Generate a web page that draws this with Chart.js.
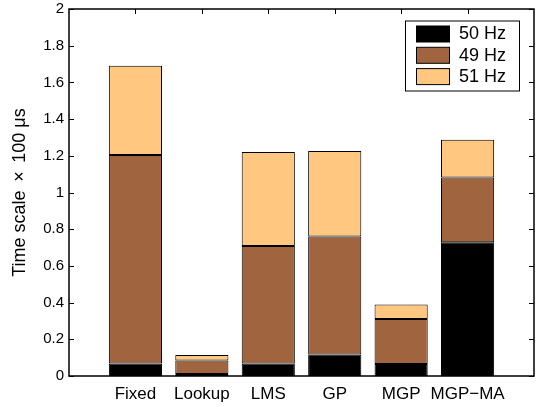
<!DOCTYPE html>
<html>
<head>
<meta charset="utf-8">
<script src="https://cdn.jsdelivr.net/npm/chart.js@4"></script>
<style>
  html, body { margin: 0; padding: 0; background: #fff; }
  #wrap { width: 536px; height: 407px; }
</style>
</head>
<body>
<div id="wrap"><canvas id="c" width="536" height="407"></canvas></div>
<script>
const categories = ['Fixed', 'Lookup', 'LMS', 'GP', 'MGP', 'MGP\u2212MA'];
const series50 = [0.068, 0.011, 0.068, 0.117, 0.066, 0.729];
const series49 = [1.136, 0.073, 0.641, 0.643, 0.245, 0.353];
const series51 = [0.487, 0.031, 0.512, 0.466, 0.079, 0.206];
const seriesNames = ['50 Hz', '49 Hz', '51 Hz'];
const yMin = 0, yMax = 2, yStep = 0.2;

const FONT = "'Liberation Sans', Arial, Helvetica, sans-serif";
const labels = [''].concat(categories, ['']);
const pad = arr => [null].concat(arr, [null]);

const boxPlugin = {
  id: 'matlabBox',
  beforeDatasetsDraw(chart) {
    const ctx = chart.ctx, a = chart.chartArea, x = chart.scales.x;
    ctx.save();
    ctx.strokeStyle = '#000'; ctx.lineWidth = 1;
    for (let i = 1; i <= categories.length; i++) {
      const px = Math.round(x.getPixelForValue(i)) + 0.5;
      ctx.beginPath(); ctx.moveTo(px, a.bottom); ctx.lineTo(px, a.bottom - 5); ctx.stroke();
    }
    ctx.restore();
  },
  afterDraw(chart) {
    const ctx = chart.ctx, a = chart.chartArea, x = chart.scales.x, y = chart.scales.y;
    ctx.save();
    ctx.strokeStyle = '#000';
    ctx.lineWidth = 1;
    for (let i = 1; i <= categories.length; i++) {
      const px = Math.round(x.getPixelForValue(i)) + 0.5;
      ctx.beginPath(); ctx.moveTo(px, a.top); ctx.lineTo(px, a.top + 5); ctx.stroke();
    }
    for (let v = yMin; v <= yMax + 1e-9; v += yStep) {
      const py = Math.round(y.getPixelForValue(v)) + 0.5;
      ctx.beginPath(); ctx.moveTo(a.left, py); ctx.lineTo(a.left + 5, py); ctx.stroke();
      ctx.beginPath(); ctx.moveTo(a.right, py); ctx.lineTo(a.right - 5, py); ctx.stroke();
    }
    ctx.lineWidth = 1.5;
    ctx.strokeRect(a.left, a.top, a.right - a.left, a.bottom - a.top);

    // legend
    const lw = 114, lh = 70;
    const lx = a.right - 15 - lw, ly = a.top + 11.5;
    ctx.fillStyle = '#fff';
    ctx.fillRect(lx, ly, lw, lh);
    ctx.lineWidth = 1;
    ctx.strokeRect(lx + 0.5, ly + 0.5, lw, lh);
    ctx.font = '18px ' + FONT;
    ctx.textBaseline = 'middle';
    ctx.textAlign = 'left';
    chart.data.datasets.forEach((ds, i) => {
      const sy = ly + 5.5 + i * 21.3;
      ctx.fillStyle = ds.backgroundColor;
      ctx.fillRect(lx + 11.5, sy, 33, 16);
      ctx.strokeStyle = '#000';
      ctx.strokeRect(lx + 11.5, sy, 33, 16);
      ctx.fillStyle = '#000';
      ctx.fillText(ds.label, lx + 54, sy + 8.5);
    });
    ctx.restore();
  }
};

new Chart(document.getElementById('c'), {
  type: 'bar',
  data: {
    labels: labels,
    datasets: [
      { label: seriesNames[0], data: pad(series50), backgroundColor: '#000000' },
      { label: seriesNames[1], data: pad(series49), backgroundColor: '#A0643F' },
      { label: seriesNames[2], data: pad(series51), backgroundColor: '#FFC77F' }
    ].map(d => Object.assign(d, {
      borderColor: '#000', borderWidth: 1, borderSkipped: false,
      barPercentage: 0.8, categoryPercentage: 1.0
    }))
  },
  options: {
    responsive: false,
    animation: false,
    layout: { padding: { top: 9, right: 2, left: 0, bottom: 0 } },
    plugins: { legend: { display: false }, tooltip: { enabled: false } },
    scales: {
      x: {
        stacked: true,
        offset: false,
        grid: { display: false, drawTicks: false },
        border: { display: false },
        ticks: { color: '#000', font: { family: FONT, size: 17 }, padding: 8, maxRotation: 0, autoSkip: false },
        afterFit: s => { s.height = 31; s.paddingLeft = 0; s.paddingRight = 0; }
      },
      y: {
        stacked: true,
        min: yMin, max: yMax,
        grid: { display: false, drawTicks: false },
        border: { display: false },
        ticks: {
          stepSize: yStep, color: '#000', padding: 5,
          font: { family: FONT, size: 15 },
          callback: v => String(Math.round(v * 10) / 10)
        },
        title: {
          display: true, text: 'Time scale \u2009\u00d7\u2009 100 \u03bcs', color: '#000',
          font: { family: FONT, size: 18 }, padding: { top: 9, bottom: 0 }
        },
        afterFit: s => { s.width = 69; s.paddingTop = 0; s.paddingBottom = 0; }
      }
    }
  },
  plugins: [boxPlugin]
});
</script>
</body>
</html>
